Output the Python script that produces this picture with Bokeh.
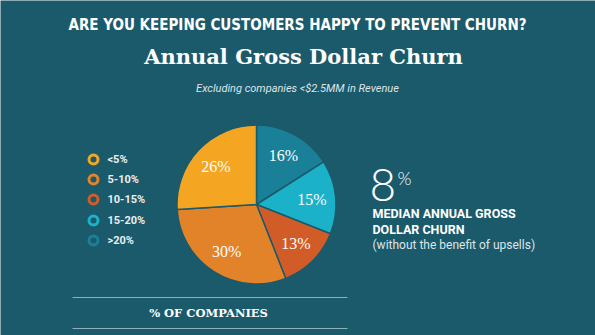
import math
from bokeh.plotting import figure
from bokeh.models import Range1d, ColumnDataSource
from bokeh.core.properties import value
from bokeh.embed import file_html
from bokeh.resources import INLINE

# ---------------- data ----------------
categories = ["<5%", "5-10%", "10-15%", "15-20%", ">20%"]
shares = [26, 30, 13, 15, 16]
colors = ["#f4a623", "#e2832a", "#d25c28", "#1ab1c9", "#1a8098"]
share_labels = ["26%", "30%", "13%", "15%", "16%"]

title_text = "ARE YOU KEEPING CUSTOMERS HAPPY TO PREVENT CHURN?"
subtitle_text = "Annual Gross Dollar Churn"
note_text = "Excluding companies <$2.5MM in Revenue"
median_value = "8"
median_lines = ["MEDIAN ANNUAL GROSS", "DOLLAR CHURN"]
median_note = "(without the benefit of upsells)"
axis_caption = "% OF COMPANIES"

# ---------------- layout ----------------
W, H = 595, 335
BG = "#1b5a6b"

def Y(ypx):
    return H - ypx

p = figure(width=W, height=H, x_range=Range1d(0, W), y_range=Range1d(0, H),
           output_backend="svg", toolbar_location=None, min_border=0)
p.axis.visible = False
p.grid.visible = False
p.outline_line_color = None
p.background_fill_color = BG
p.border_fill_color = BG

# ---------------- pie ----------------
cx, cy, R = 256, Y(204), 79.5
total = float(sum(shares))
order = list(range(len(categories)))[::-1]
starts, ends, cols, lx, ly, labs = [], [], [], [], [], []
a = math.pi / 2
for i in order:
    sweep = 2 * math.pi * shares[i] / total
    a2 = a - sweep
    starts.append(a2)
    ends.append(a)
    cols.append(colors[i])
    mid = (a + a2) / 2
    lx.append(cx + 0.70 * R * math.cos(mid))
    ly.append(cy + 0.70 * R * math.sin(mid))
    labs.append(share_labels[i])
    a = a2

src = ColumnDataSource(dict(start=starts, end=ends, color=cols, lx=lx, ly=ly, lab=labs))
p.wedge(x=cx, y=cy, radius=R, start_angle="start", end_angle="end",
        direction="anticlock", fill_color="color", line_color=BG, line_width=1.5,
        source=src)
p.text(x="lx", y="ly", text="lab", source=src, text_color="white",
       text_font=value("Liberation Serif"), text_font_size="16px",
       text_align="center", text_baseline="middle")

# ---------------- legend ----------------
leg_y = [Y(v) for v in (159, 179, 199, 220, 240)]
lsrc = ColumnDataSource(dict(x=[93] * 5, y=leg_y, c=colors, t=categories, tx=[107] * 5))
p.scatter(x="x", y="y", source=lsrc, marker="circle", size=9, fill_color=None,
          line_color="c", line_width=3)
p.text(x="tx", y="y", text="t", source=lsrc, text_color="#e9eef0",
       text_font=value("Roboto"), text_font_style="bold", text_font_size="11px",
       text_align="left", text_baseline="middle")

# ---------------- titles ----------------
p.text(x=[297], y=[Y(24)], text=[title_text], text_color="white",
       text_font=value("DejaVu Sans Condensed, Roboto Condensed, Roboto"),
       text_font_style="bold",
       text_font_size="15px", text_align="center", text_baseline="middle")
p.text(x=[303], y=[Y(56)], text=[subtitle_text], text_color="white",
       text_font=value("DejaVu Serif"), text_font_style="bold",
       text_font_size="21px", text_align="center", text_baseline="middle")
p.text(x=[297], y=[Y(88)], text=[note_text], text_color="#dde5e8",
       text_font=value("Roboto"), text_font_style="italic",
       text_font_size="11px", text_align="center", text_baseline="middle")

# ---------------- right annotation ----------------
p.text(x=[369], y=[Y(184)], text=[median_value], text_color="white",
       text_font=value("Lato Light, Lato Hairline, Roboto"), text_font_size="46px",
       text_align="left", text_baseline="middle")
p.text(x=[397], y=[Y(177)], text=["%"], text_color="white",
       text_font=value("Lato Light, Lato Hairline, Roboto"), text_font_size="18px",
       text_align="left", text_baseline="middle")
p.text(x=[372, 372], y=[Y(213), Y(229)], text=median_lines, text_color="white",
       text_font=value("Roboto"), text_font_style="bold", text_font_size="12.5px",
       text_align="left", text_baseline="middle")
p.text(x=[372], y=[Y(244)], text=[median_note], text_color="#dde5e8",
       text_font=value("Roboto"), text_font_size="12px",
       text_align="left", text_baseline="middle")

# ---------------- bottom caption ----------------
p.segment(x0=[72, 72], y0=[Y(297), Y(328)], x1=[347, 347], y1=[Y(297), Y(328)],
          line_color="#8fb0ba", line_width=1)
p.text(x=[208], y=[Y(312)], text=[axis_caption], text_color="white",
       text_font=value("DejaVu Serif"), text_font_style="bold",
       text_font_size="11.5px", text_align="center", text_baseline="middle")

open("out.html", "w").write(file_html(p, INLINE))
